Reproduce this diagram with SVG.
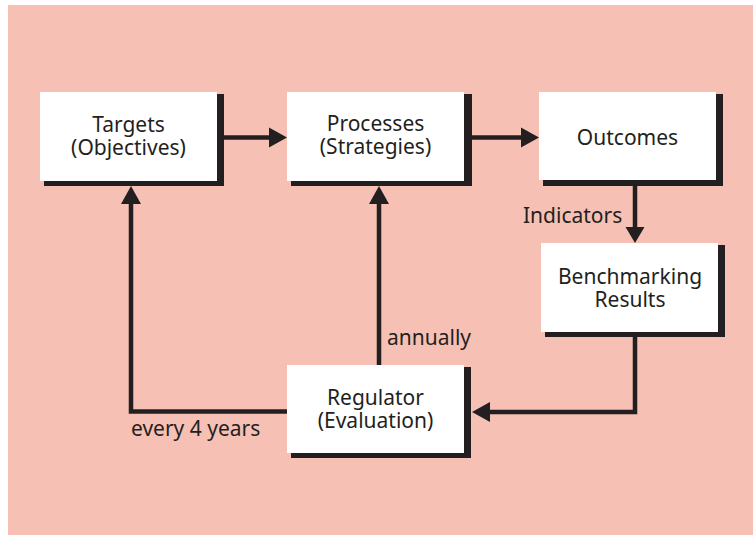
<svg xmlns="http://www.w3.org/2000/svg" width="753" height="535" viewBox="0 0 753 535">
<style>
.shadow{fill:#231F20}
.box{fill:#FFFFFF}
.t{font-family:"Noto Sans","Liberation Sans",sans-serif;font-size:21px;fill:#231F20}
.c{text-anchor:middle}
.ln{fill:none;stroke:#231F20;stroke-width:4.5;stroke-linejoin:miter}
.ah{fill:#231F20}
</style>
<rect x="0" y="0" width="753" height="535" fill="#FFFFFF"/>
<rect x="8" y="5" width="745" height="530" fill="#F6C1B4"/>
<g id="connectors">
<line class="ln" x1="224" y1="137.5" x2="271" y2="137.5"/>
<polygon class="ah" points="269,127.5 287,137.5 269,147.5"/>
<line class="ln" x1="472" y1="137.5" x2="523" y2="137.5"/>
<polygon class="ah" points="521,127.5 539,137.5 521,147.5"/>
<line class="ln" x1="635" y1="186" x2="635" y2="229"/>
<polygon class="ah" points="625.5,227 635,243 644.5,227"/>
<polyline class="ln" points="635,337 635,412 488,412"/>
<polygon class="ah" points="490,402 472,412 490,422"/>
<line class="ln" x1="379" y1="365" x2="379" y2="202"/>
<polygon class="ah" points="369,204 379,186 389,204"/>
<polyline class="ln" points="287,411.5 131,411.5 131,202"/>
<polygon class="ah" points="121,204 131,186 141,204"/>
</g>
<g id="labels">
<text class="t" x="523" y="223">Indicators</text>
<text class="t" x="387" y="345">annually</text>
<text class="t" x="131" y="436">every 4 years</text>
</g>
<g id="targets">
<rect class="shadow" x="44" y="94" width="180" height="92"/>
<rect class="box" x="40" y="92" width="177" height="89"/>
<text class="t c" x="128.5" y="132">Targets</text>
<text class="t c" x="128.5" y="155">(Objectives)</text>
</g>
<g id="processes">
<rect class="shadow" x="291" y="94" width="181" height="92"/>
<rect class="box" x="287" y="92" width="177" height="89"/>
<text class="t c" x="375.5" y="131">Processes</text>
<text class="t c" x="375.5" y="154">(Strategies)</text>
</g>
<g id="outcomes">
<rect class="shadow" x="543" y="94" width="180" height="92"/>
<rect class="box" x="539" y="92" width="177" height="88"/>
<text class="t c" x="627.5" y="145">Outcomes</text>
</g>
<g id="benchmarking">
<rect class="shadow" x="545" y="245" width="180" height="92"/>
<rect class="box" x="541" y="243" width="177" height="89"/>
<text class="t c" x="630" y="284">Benchmarking</text>
<text class="t c" x="630" y="307">Results</text>
</g>
<g id="regulator">
<rect class="shadow" x="291" y="367" width="180" height="91"/>
<rect class="box" x="287" y="365" width="177" height="88"/>
<text class="t c" x="375.5" y="405">Regulator</text>
<text class="t c" x="375.5" y="428">(Evaluation)</text>
</g>
</svg>
